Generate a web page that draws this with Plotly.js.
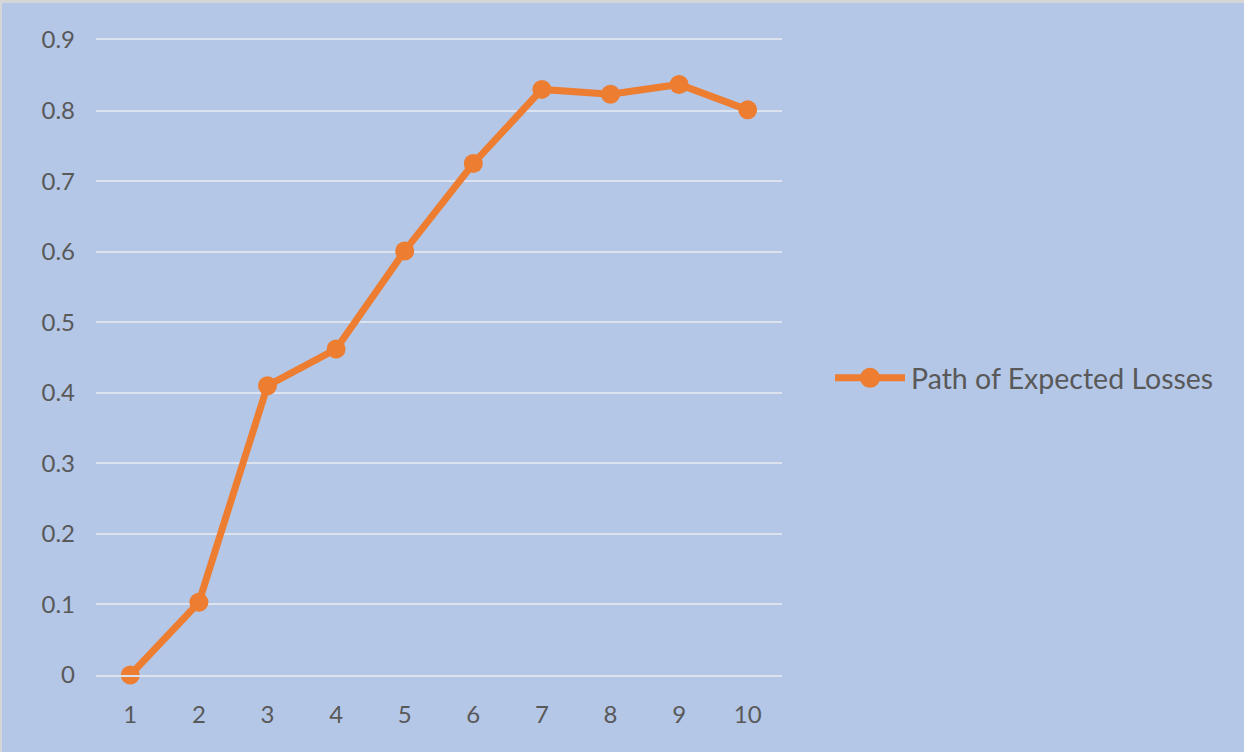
<!DOCTYPE html>
<html>
<head>
<meta charset="utf-8">
<script src="https://cdn.plot.ly/plotly-3.0.1.min.js"></script>
<style>
  html, body { margin: 0; padding: 0; background: #d6d6d6; }
  #chart { position: absolute; left: 2px; top: 3px; width: 1242px; height: 749px; }
</style>
</head>
<body>
<div id="chart"></div>
<script>
// Periods on the horizontal axis
const periods = ['1', '2', '3', '4', '5', '6', '7', '8', '9', '10'];
// Expected loss at each period
const expectedLosses = [0, 0.103, 0.41, 0.462, 0.601, 0.725, 0.83, 0.823, 0.837, 0.801];
// Value axis ticks
const yTickValues = [0, 0.1, 0.2, 0.3, 0.4, 0.5, 0.6, 0.7, 0.8, 0.9];
const yTickLabels = ['0', '0.1', '0.2', '0.3', '0.4', '0.5', '0.6', '0.7', '0.8', '0.9'];

const seriesName = 'Path of Expected Losses';
const orange = '#ED7D31';
const textColor = '#595959';
const gridColor = '#DCE3EF';
const fontFamily = 'Lato, "Open Sans", sans-serif';

const trace = {
  x: periods,
  y: expectedLosses,
  name: seriesName,
  type: 'scatter',
  mode: 'lines+markers',
  line: { color: orange, width: 7 },
  marker: { color: orange, size: 19 },
  cliponaxis: false,
  showlegend: false
};

// Legend key drawn as a long line with a dot in the middle, placed right of the plot
const keyY = 0.468;
const keyStart = 1.0773, keyEnd = 1.1793, keyMid = (keyStart + keyEnd) / 2;
const legendShapes = [
  {
    type: 'line', xref: 'paper', yref: 'paper',
    x0: keyStart, x1: keyEnd, y0: keyY, y1: keyY,
    line: { color: orange, width: 7 }
  },
  {
    type: 'circle', xref: 'paper', yref: 'paper',
    xsizemode: 'pixel', ysizemode: 'pixel',
    xanchor: keyMid, yanchor: keyY,
    x0: -10, x1: 10, y0: -10, y1: 10,
    fillcolor: orange, line: { width: 0 }
  }
];

const layout = {
  width: 1242,
  height: 749,
  paper_bgcolor: '#B4C7E7',
  plot_bgcolor: '#B4C7E7',
  margin: { l: 94, r: 462, t: 37, b: 77 },
  font: { family: fontFamily, size: 24, color: textColor },
  xaxis: {
    type: 'category',
    range: [-0.5, 9.5],
    showgrid: false,
    zeroline: false,
    showline: true,
    mirror: true,
    linecolor: gridColor,
    linewidth: 2,
    ticks: '',
    tickfont: { family: fontFamily, size: 24, color: textColor },
    ticklabelstandoff: 17
  },
  yaxis: {
    range: [0, 0.9],
    tickvals: yTickValues,
    ticktext: yTickLabels,
    showgrid: true,
    gridcolor: gridColor,
    gridwidth: 2,
    zeroline: false,
    showline: false,
    ticks: '',
    tickfont: { family: fontFamily, size: 24, color: textColor },
    ticklabelstandoff: 20
  },
  showlegend: false,
  shapes: legendShapes,
  annotations: [
    {
      text: seriesName,
      xref: 'paper', yref: 'paper',
      x: keyEnd + 0.006, y: keyY,
      xanchor: 'left', yanchor: 'middle',
      showarrow: false,
      font: { family: fontFamily, size: 28.5, color: textColor }
    }
  ]
};

Plotly.newPlot('chart', [trace], layout, { displayModeBar: false, staticPlot: true });
</script>
</body>
</html>
